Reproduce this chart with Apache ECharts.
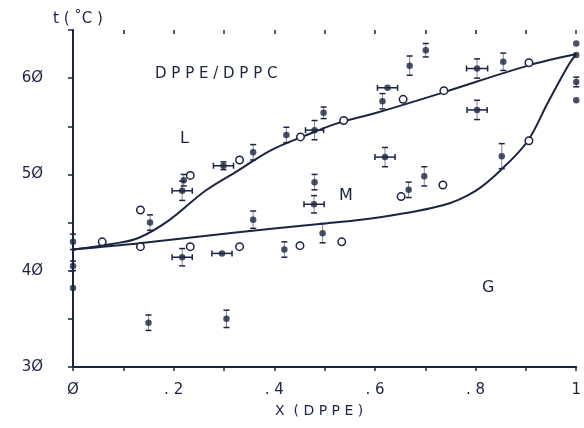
<!DOCTYPE html>
<html><head><meta charset="utf-8">
<script src="https://cdn.jsdelivr.net/npm/echarts@6/dist/echarts.min.js"></script>
<style>html,body{margin:0;padding:0;background:#fff}#c{width:584px;height:428px}</style>
</head><body><div id="c"></div>
<script>
// ---- data ----
const liquidusX = [0, 0.08, 0.13, 0.19, 0.263, 0.328, 0.393, 0.46, 0.525, 0.603, 0.735, 0.904, 1];
const liquidusT = [42.2, 42.8, 43.4, 45.2, 48.3, 50.4, 52.5, 54.0, 55.3, 56.4, 58.5, 61.3, 62.5];
const solidusX = [0, 0.132, 0.328, 0.5, 0.603, 0.735, 0.80, 0.853, 0.904, 0.943, 0.985, 1];
const solidusT = [42.2, 42.85, 44.0, 44.9, 45.5, 46.8, 48.3, 50.6, 53.5, 57.4, 61.4, 62.5];

const filledX = [0, 0, 0, 0.153, 0.15, 0.217, 0.22, 0.217, 0.299, 0.358, 0.296, 0.358, 0.305, 0.42, 0.424, 0.48, 0.498, 0.48, 0.479, 0.496, 0.625, 0.615, 0.62, 0.669, 0.701, 0.803, 0.855, 1, 1, 1, 1, 0.803, 0.698, 0.667, 0.852];
const filledT = [38.2, 40.5, 43.0, 45.0, 34.6, 48.3, 49.4, 41.4, 50.9, 52.3, 41.8, 45.3, 35.0, 42.2, 54.1, 54.6, 56.4, 49.2, 46.9, 43.9, 59.0, 57.6, 51.8, 61.3, 62.9, 61.0, 61.7, 63.6, 62.4, 59.6, 57.7, 56.7, 49.8, 48.4, 51.9];
const filledTErr = [0, 0.5, 0.8, 0.8, 0.8, 1.0, 0.6, 0.9, 0.4, 0.8, 0, 0.9, 0.9, 0.8, 0.8, 1.0, 0.6, 0.8, 0.9, 1.0, 0, 0.8, 1.0, 1.0, 0.7, 1.0, 0.9, 0, 0, 0.5, 0, 1.0, 1.0, 0.8, 1.3];
const filledXErr = [0, 0, 0, 0, 0, 0.02, 0, 0.02, 0.02, 0, 0.02, 0, 0, 0, 0, 0.018, 0, 0, 0.02, 0, 0.02, 0, 0.02, 0, 0, 0.021, 0, 0, 0, 0, 0, 0.02, 0, 0, 0];

const openX = [0.058, 0.134, 0.134, 0.233, 0.233, 0.331, 0.331, 0.452, 0.451, 0.538, 0.534, 0.656, 0.737, 0.906, 0.906, 0.652, 0.735];
const openT = [43.0, 46.3, 42.5, 49.9, 42.5, 51.5, 42.5, 53.9, 42.6, 55.6, 43.0, 57.8, 58.7, 61.6, 53.5, 47.7, 48.9];

const yTicks = {30: '3Ø', 40: '4Ø', 50: '5Ø', 60: '6Ø'};
const xTicks = {0: 'Ø', 2: '. 2', 4: '. 4', 6: '. 6', 8: '. 8', 10: '1'};

// ---- chart ----
const ink = '#1c2442';
const font = 'DejaVu Sans';
const zip = (a, b) => a.map((v, i) => [v, b[i]]);

const chart = echarts.init(document.getElementById('c'), null, {renderer: 'canvas'});
const grid = {left: 73, right: 2, top: 30, bottom: 61};

const xBase = {type: 'value', min: 0, max: 1, interval: 0.1, splitLine: {show: false}};
const yBase = {type: 'value', min: 30, max: 65, interval: 5, splitLine: {show: false}};

chart.setOption({
  animation: false,
  backgroundColor: '#fff',
  grid: grid,
  xAxis: [
    Object.assign({}, xBase, {
      axisLine: {show: true, onZero: false, lineStyle: {color: ink, width: 2}},
      axisTick: {show: true, length: 4, lineStyle: {color: ink, width: 1.5}},
      axisLabel: {show: true, margin: 16, color: ink, fontFamily: font, fontSize: 15,
        formatter: v => { const k = Math.round(v * 10); return xTicks[k] !== undefined ? xTicks[k] : ''; }}
    }),
    Object.assign({}, xBase, {
      axisLine: {show: false},
      axisTick: {show: true, inside: true, length: 4, lineStyle: {color: ink, width: 1.5}},
      axisLabel: {show: false}
    })
  ],
  yAxis: [
    Object.assign({}, yBase, {
      axisLine: {show: true, onZero: false, lineStyle: {color: ink, width: 2}},
      axisTick: {show: true, length: 5, lineStyle: {color: ink, width: 1.5}},
      axisLabel: {show: true, margin: 30, color: ink, fontFamily: font, fontSize: 15,
        formatter: v => yTicks[Math.round(v)] || ''}
    }),
    Object.assign({}, yBase, {
      axisLine: {show: false},
      axisTick: {show: true, inside: true, length: 5, lineStyle: {color: ink, width: 1.5}},
      axisLabel: {show: false}
    })
  ],
  graphic: [
    {type: 'text', left: 53, top: 12, style: {text: 't ( ˚C )', font: '15px ' + font, fill: ink}},
    {type: 'text', left: 275, top: 404, style: {text: 'X  ( D P P E )', font: '14px ' + font, fill: ink}},
    {type: 'text', left: 155, top: 67, style: {text: 'D P P E / D P P C', font: '15px ' + font, fill: ink}},
    {type: 'text', left: 180, top: 131, style: {text: 'L', font: '16px ' + font, fill: ink}},
    {type: 'text', left: 339, top: 188, style: {text: 'M', font: '16px ' + font, fill: ink}},
    {type: 'text', left: 482, top: 280, style: {text: 'G', font: '16px ' + font, fill: ink}}
  ],
  series: [
    {type: 'line', data: zip(liquidusX, liquidusT), smooth: 0.35, showSymbol: false,
     lineStyle: {color: ink, width: 2}, z: 3},
    {type: 'line', data: zip(solidusX, solidusT), smooth: 0.35, showSymbol: false,
     lineStyle: {color: ink, width: 2}, z: 3},
    {type: 'custom', z: 4,
     data: filledX.map((x, i) => [x, filledT[i], filledTErr[i], filledXErr[i]]),
     renderItem: (params, api) => {
       const x = api.value(0), t = api.value(1), te = api.value(2), xe = api.value(3);
       const children = [];
       const st = {stroke: ink, lineWidth: 1.5};
       if (te > 0) {
         const a = api.coord([x, t + te]), b = api.coord([x, t - te]);
         children.push({type: 'line', shape: {x1: a[0] - 3, y1: a[1], x2: a[0] + 3, y2: a[1]}, style: st});
         children.push({type: 'line', shape: {x1: b[0] - 3, y1: b[1], x2: b[0] + 3, y2: b[1]}, style: st});
         children.push({type: 'line', shape: {x1: a[0], y1: a[1], x2: b[0], y2: b[1]}, style: {stroke: ink, lineWidth: 0.8, opacity: 0.7}});
       }
       if (xe > 0) {
         const a = api.coord([x - xe, t]), b = api.coord([x + xe, t]);
         children.push({type: 'line', shape: {x1: a[0], y1: a[1], x2: b[0], y2: b[1]}, style: st});
         children.push({type: 'line', shape: {x1: a[0], y1: a[1] - 3, x2: a[0], y2: a[1] + 3}, style: st});
         children.push({type: 'line', shape: {x1: b[0], y1: b[1] - 3, x2: b[0], y2: b[1] + 3}, style: st});
       }
       return {type: 'group', children: children};
     }},
    {type: 'scatter', data: zip(filledX, filledT), symbol: 'circle', symbolSize: 6.5,
     itemStyle: {color: ink}, z: 5},
    {type: 'scatter', data: zip(openX, openT), symbol: 'circle', symbolSize: 7.5,
     itemStyle: {color: '#fff', borderColor: ink, borderWidth: 1.5, opacity: 1}, z: 5}
  ]
});
</script>
</body></html>
